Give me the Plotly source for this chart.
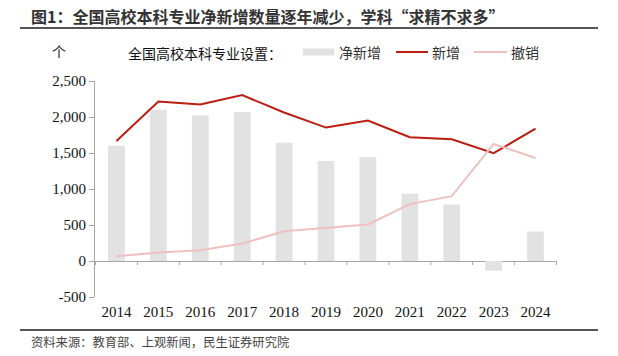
import plotly.graph_objects as go

years = ["2014", "2015", "2016", "2017", "2018", "2019", "2020", "2021", "2022", "2023", "2024"]
net_added = [1600, 2100, 2021, 2068, 1644, 1389, 1445, 934, 786, -134, 410]
added = [1668, 2216, 2174, 2305, 2062, 1853, 1951, 1720, 1692, 1497, 1840]
withdrawn = [65, 117, 149, 242, 414, 465, 507, 790, 901, 1626, 1431]
ytick_vals = [-500, 0, 500, 1000, 1500, 2000, 2500]
ytick_text = ["-500", "0", "500", "1,000", "1,500", "2,000", "2,500"]

W, H = 618, 356
L, R, T, B = 95, 61, 81, 59
PW, PH = W - L - R, H - T - B

def px(x):
    return (x - L) / PW

def py(y):
    return (H - B - y) / PH

BAR = "#e2e2e2"
RED = "#bb1d12"
PINK = "#f0c0c0"
CJK = "Noto Sans CJK SC"
SERIF = "Liberation Serif"

fig = go.Figure()
fig.add_trace(go.Bar(x=years, y=net_added, marker=dict(color=BAR, line=dict(width=0)),
                     name="净新增", showlegend=False))
fig.add_trace(go.Scatter(x=years, y=added, mode="lines", line=dict(color=RED, width=2),
                         name="新增", showlegend=False))
fig.add_trace(go.Scatter(x=years, y=withdrawn, mode="lines", line=dict(color=PINK, width=2),
                         name="撤销", showlegend=False))

shapes = []
# category boundary tick marks on the zero line
for i in range(len(years) + 1):
    shapes.append(dict(type="line", xref="x", yref="y", ysizemode="pixel", yanchor=0,
                       x0=i - 0.5, x1=i - 0.5, y0=0, y1=-4,
                       line=dict(color="#a6a6a6", width=1)))
# title underline and footer line
shapes.append(dict(type="line", xref="paper", yref="paper", x0=px(20), x1=px(598),
                   y0=py(28), y1=py(28), line=dict(color="#555555", width=2)))
shapes.append(dict(type="line", xref="paper", yref="paper", x0=px(20), x1=px(598),
                   y0=py(330), y1=py(330), line=dict(color="#555555", width=2)))
# legend symbols
shapes.append(dict(type="rect", xref="paper", yref="paper", x0=px(303), x1=px(334),
                   y0=py(48.5), y1=py(55.5), fillcolor=BAR, line=dict(width=0)))
shapes.append(dict(type="line", xref="paper", yref="paper", x0=px(396), x1=px(428),
                   y0=py(52), y1=py(52), line=dict(color=RED, width=2)))
shapes.append(dict(type="line", xref="paper", yref="paper", x0=px(474), x1=px(507),
                   y0=py(52), y1=py(52), line=dict(color=PINK, width=2)))

def ann(text, x, y, size, color="#222222", bold=False, family=CJK):
    t = f"<b>{text}</b>" if bold else text
    return dict(text=t, xref="paper", yref="paper", x=px(x), y=py(y), xanchor="left",
                yanchor="middle", showarrow=False, font=dict(family=family, size=size, color=color))

annotations = [
    ann("图1：全国高校本科专业净新增数量逐年减少，学科“求精不求多”", 29, 16.5, 16, "#333333", True),
    ann("个", 50, 51, 14, "#222222"),
    ann("全国高校本科专业设置：", 126, 53, 14, "#111111"),
    ann("净新增", 337, 52, 14, "#333333"),
    ann("新增", 430, 52, 14, "#333333"),
    ann("撤销", 509, 52, 14, "#333333"),
    ann("资料来源：教育部、上观新闻，民生证券研究院", 29, 342, 12.3, "#444444"),
]

fig.update_layout(
    width=W, height=H,
    margin=dict(l=L, r=R, t=T, b=B, pad=0),
    paper_bgcolor="white", plot_bgcolor="white",
    bargap=0.6,
    shapes=shapes,
    annotations=annotations,
    showlegend=False,
    xaxis=dict(type="category", showline=False, ticks="", showgrid=False, zeroline=False,
               tickfont=dict(family=SERIF, size=15, color="#111111"), ticklabelstandoff=4),
    yaxis=dict(range=[-500, 2500], tickvals=ytick_vals, ticktext=ytick_text, showgrid=False,
               showline=True, linecolor="#a6a6a6", linewidth=1,
               ticks="outside", ticklen=5, tickcolor="#a6a6a6",
               zeroline=True, zerolinecolor="#a6a6a6", zerolinewidth=1,
               tickfont=dict(family=SERIF, size=15, color="#111111")),
)

fig.write_html("out.html", config={"displayModeBar": False},
               post_script="document.body.style.margin='0px';")
